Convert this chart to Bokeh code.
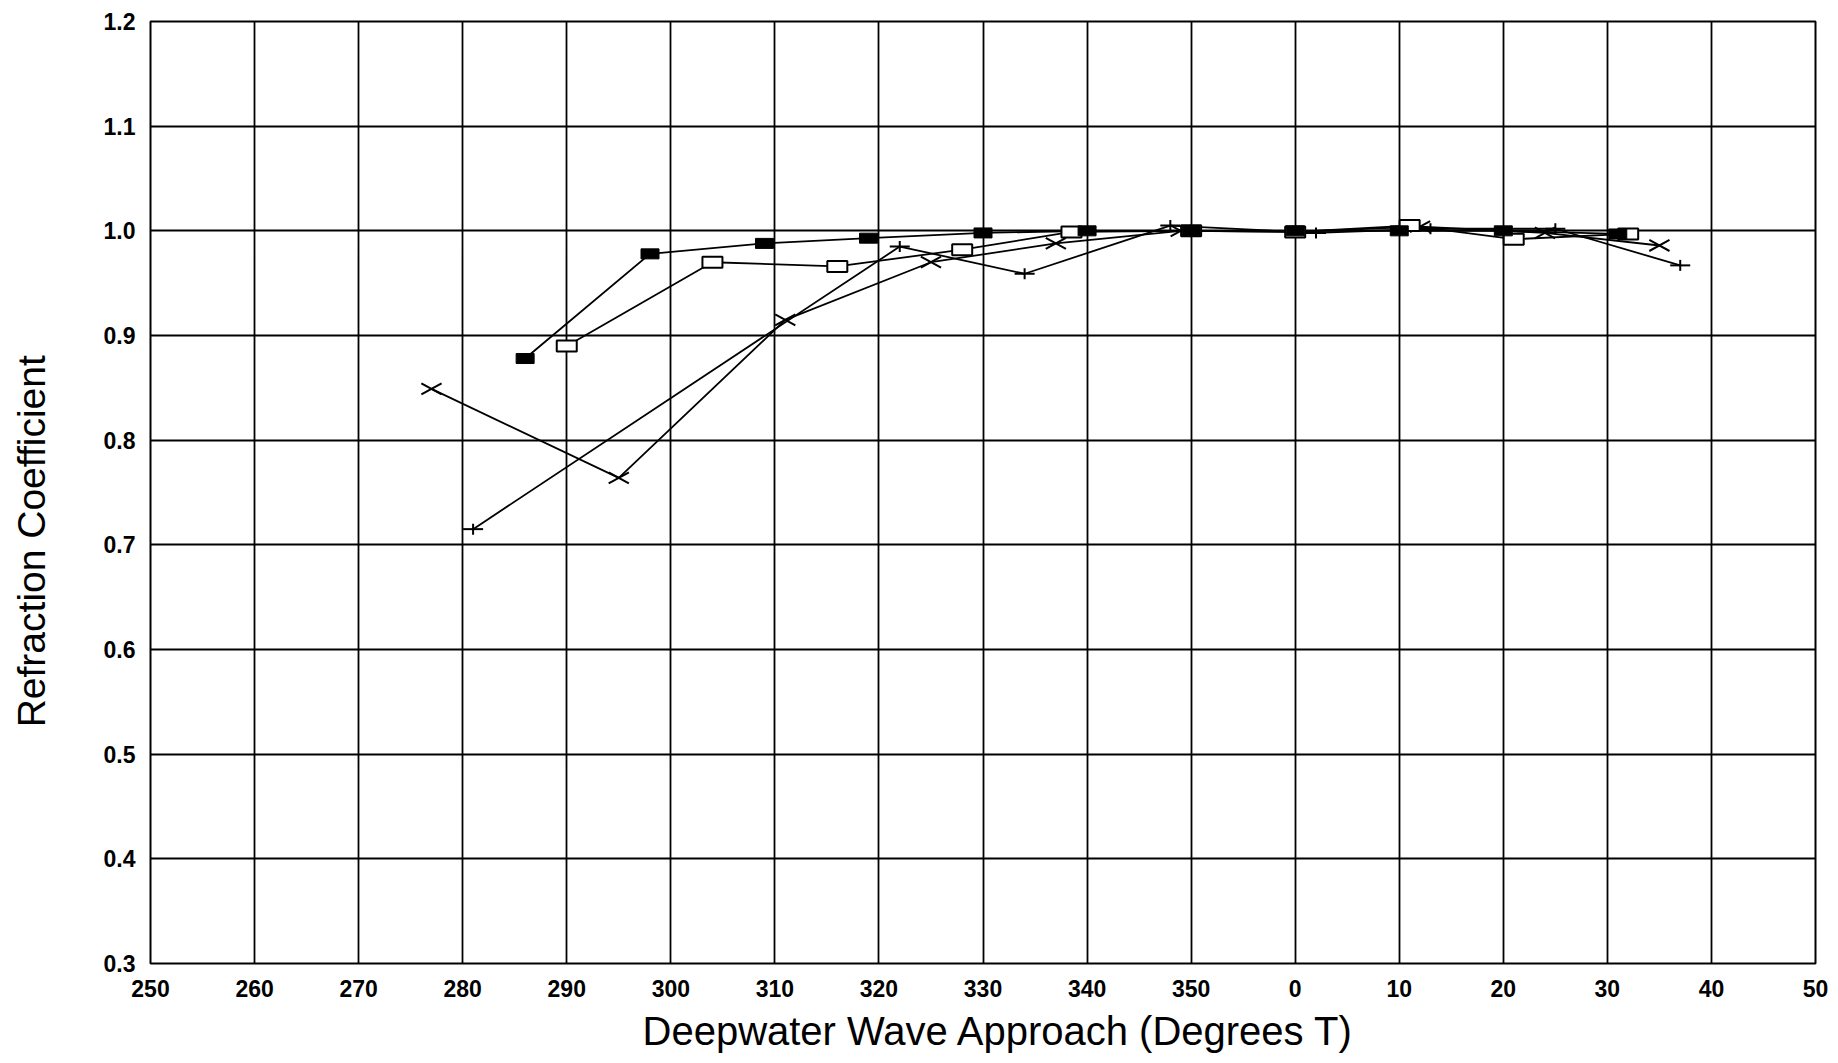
from bokeh.plotting import figure
from bokeh.models import FixedTicker, Range1d, Title
from bokeh.embed import file_html
from bokeh.resources import INLINE

# ---- data (degrees True as printed on the chart; 0..50 follow 350) ----
filled_deg = [286, 298, 309, 319, 330, 340, 350, 0, 10, 20, 31]
filled_k   = [0.878, 0.978, 0.988, 0.993, 0.998, 1.000, 1.000, 1.000, 1.000, 1.000, 0.997]

open_deg = [290, 304, 316, 328, 338.5, 350, 0, 11, 21, 32]
open_k   = [0.890, 0.970, 0.966, 0.982, 0.999, 1.000, 0.999, 1.005, 0.992, 0.997]

cross_deg = [277, 295, 311, 325, 337, 349, 0, 12, 24, 35]
cross_k   = [0.849, 0.764, 0.915, 0.970, 0.988, 1.000, 0.999, 1.004, 0.998, 0.986]

plus_deg = [281, 322, 334, 348, 2, 13, 25, 37]
plus_k   = [0.715, 0.985, 0.959, 1.005, 0.998, 1.002, 1.002, 0.967]

x_tick_labels = [250, 260, 270, 280, 290, 300, 310, 320, 330, 340, 350, 0, 10, 20, 30, 40, 50]
y_ticks = [0.3, 0.4, 0.5, 0.6, 0.7, 0.8, 0.9, 1.0, 1.1, 1.2]

x_title = "Deepwater Wave Approach (Degrees T)"
y_title = "Refraction Coefficient"


def unwrap(d):
    # directions past north continue the axis (0 -> 360, 10 -> 370 ...)
    return d + 360 if d < 200 else d


x_tick_pos = [unwrap(d) for d in x_tick_labels]

FONT = "Liberation Sans"

p = figure(width=1830, height=1060, output_backend="svg", toolbar_location=None,
           x_range=Range1d(250, 410), y_range=Range1d(0.3, 1.2),
           min_border_left=150, min_border_right=15, min_border_top=21, min_border_bottom=97)
p.background_fill_color = "white"
p.border_fill_color = "white"
p.outline_line_color = "black"
p.outline_line_width = 2

p.xaxis.ticker = FixedTicker(ticks=x_tick_pos)
p.xaxis.major_label_overrides = {pos: str(lab) for pos, lab in zip(x_tick_pos, x_tick_labels)}
p.yaxis.ticker = FixedTicker(ticks=y_ticks)
p.yaxis.major_label_overrides = {v: f"{v:.1f}" for v in y_ticks}

for ax in (p.xaxis, p.yaxis):
    ax.axis_line_color = None
    ax.major_tick_line_color = None
    ax.minor_tick_line_color = None
    ax.major_label_text_font = FONT
    ax.major_label_text_font_style = "bold"
    ax.major_label_text_color = "black"

p.xaxis.major_label_text_font_size = "23px"
p.yaxis.major_label_text_font_size = "23px"
p.xaxis.major_label_standoff = 10
p.yaxis.major_label_standoff = 9

# y title: the original sits below the vertical centre of the frame, so the
# (upward-reading) label is padded with no-break spaces at its end.
p.yaxis.axis_label = y_title + "\u00a0" * 9
p.yaxis.axis_label_text_font = FONT
p.yaxis.axis_label_text_font_size = "39px"
p.yaxis.axis_label_text_font_style = "normal"
p.yaxis.axis_label_text_color = "black"
p.yaxis.axis_label_standoff = 48

p.xgrid.ticker = FixedTicker(ticks=x_tick_pos)
p.ygrid.ticker = FixedTicker(ticks=y_ticks)
for g in (p.xgrid, p.ygrid):
    g.grid_line_color = "black"
    g.grid_line_width = 1.8
    g.grid_line_alpha = 1.0

fx = [unwrap(d) for d in filled_deg]
ox = [unwrap(d) for d in open_deg]
cx = [unwrap(d) for d in cross_deg]
px = [unwrap(d) for d in plus_deg]

LW = 1.8
p.line(cx, cross_k, line_color="black", line_width=LW)
p.line(px, plus_k, line_color="black", line_width=LW)
p.line(ox, open_k, line_color="black", line_width=LW)
p.line(fx, filled_k, line_color="black", line_width=LW)

# x-shaped markers (flattened cross)
p.scatter(cx, cross_k, marker="dash", size=23, angle=0.5, line_color="black", line_width=2)
p.scatter(cx, cross_k, marker="dash", size=23, angle=-0.5, line_color="black", line_width=2)

# plus markers (wide horizontal bar, short vertical)
p.scatter(px, plus_k, marker="dash", size=20, line_color="black", line_width=2)
p.scatter(px, plus_k, marker="dash", size=11, angle=1.5708, line_color="black", line_width=2)

# open rectangles
p.rect(ox, open_k, width=20, height=11, width_units="screen", height_units="screen",
       fill_color="white", line_color="black", line_width=2)

# filled rectangles
p.rect(fx, filled_k, width=18, height=10, width_units="screen", height_units="screen",
       fill_color="black", line_color="black", line_width=1)

# x title (placed as in the original, slightly right of centre)
p.add_layout(Title(text=x_title, align="left", offset=492, standoff=15,
                   text_font=FONT, text_font_size="40px", text_font_style="normal",
                   text_color="black"), "below")

open("out.html", "w").write(file_html(p, INLINE))
